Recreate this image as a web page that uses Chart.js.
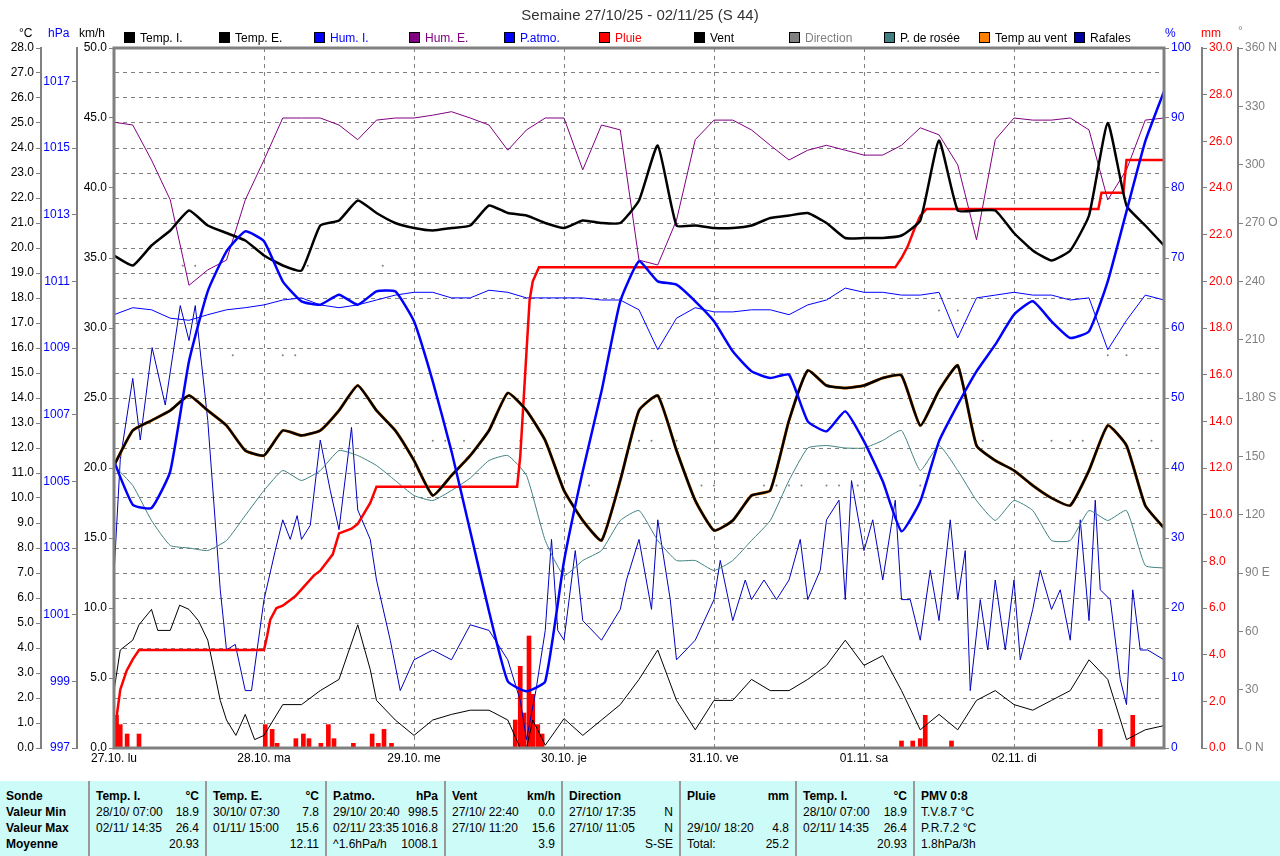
<!DOCTYPE html>
<html>
<head>
<meta charset="utf-8">
<script src="https://cdn.jsdelivr.net/npm/chart.js@4/dist/chart.umd.min.js"></script>
<style>
  body { margin: 0; background: #fff; font-family: "Liberation Sans", Arial, sans-serif; }
  #wrap { position: relative; width: 1280px; height: 856px; overflow: hidden; }
  #c { position: absolute; left: 0; top: 0; }
  .t { position: absolute; font-size: 12px; white-space: nowrap; }
  .sq { display: inline-block; width: 11px; height: 11px; border: 1px solid #000; box-sizing: border-box; vertical-align: -1px; margin-right: 5px; }
  #title { position: absolute; top: 6px; width: 1280px; text-align: center; font-size: 15px; color: #333; }
  #tbl { position: absolute; left: 0; top: 781px; width: 1280px; height: 75px; background: #cdfbf8; display: flex; font-size: 12px; }
  .col { box-sizing: border-box; padding: 8px 6px 0 6px; border-left: 2px solid #999; }
  .col:first-child { border-left: none; }
  .row { display: flex; justify-content: space-between; height: 16px; }
  .b { font-weight: bold; }
</style>
</head>
<body>
<div id="wrap">
  <canvas id="c" width="1280" height="780"></canvas>
  <div id="title">Semaine 27/10/25 - 02/11/25 (S 44)</div>
  <div class="t" style="left:19px;top:26px">°C</div>
  <div class="t" style="left:48px;top:26px;color:#00f">hPa</div>
  <div class="t" style="left:79px;top:26px">km/h</div>
  <div class="t" style="left:1165px;top:26px;color:#00f">%</div>
  <div class="t" style="left:1201px;top:26px;color:#f00">mm</div>
  <div class="t" style="left:1238px;top:24px;color:#888">°</div>
  <div id="legend"></div>
  <div id="tbl"></div>
</div>
<script>
// hours since 27/10 00:00, one point every 3 h
const hours3 = [0,3,6,9,12,15,18,21,24,27,30,33,36,39,42,45,48,51,54,57,60,63,66,69,72,75,78,81,84,87,90,93,96,99,102,105,108,111,114,117,120,123,126,129,132,135,138,141,144,147,150,153,156,159,162,165,168];

const tempI = [19.7,19.3,20.1,20.7,21.5,20.9,20.6,20.3,19.7,19.3,19.1,20.9,21.1,21.9,21.4,21.0,20.8,20.7,20.8,20.9,21.7,21.4,21.3,21.0,20.8,21.1,21.0,21.0,21.9,24.1,20.9,20.9,20.8,20.8,20.9,21.2,21.3,21.4,21.0,20.4,20.4,20.4,20.5,21.1,24.3,21.5,21.5,21.5,20.6,19.9,19.5,19.9,21.3,25.0,21.7,20.9,20.1];
const tempE = [11.3,12.7,13.1,13.5,14.1,13.5,12.9,11.9,11.7,12.7,12.5,12.7,13.5,14.5,13.5,12.7,11.5,10.1,10.9,11.7,12.7,14.2,13.5,12.3,10.3,9.1,8.3,10.7,13.5,14.1,11.9,9.9,8.7,9.1,10.1,10.3,13.1,15.1,14.5,14.4,14.5,14.8,14.9,12.9,14.3,15.3,12.1,11.5,11.1,10.5,10.0,9.7,11.1,12.9,12.1,9.7,8.8];
const humI = [61.9,62.9,62.6,61.4,61.1,61.9,62.6,62.9,63.3,64.0,64.3,63.3,62.9,63.3,64.0,64.7,65.1,65.1,64.3,64.3,65.4,65.1,64.3,64.3,64.3,64.3,64.0,64.0,62.6,56.9,61.4,62.9,62.3,62.3,62.6,62.6,61.9,63.3,64.0,65.7,65.1,65.1,64.7,64.7,65.1,58.6,64.3,64.7,65.1,64.7,64.7,64.0,64.3,56.9,61.1,64.7,64.0];
const humE = [89.4,89.0,84.0,78.3,66.1,68.3,69.7,78.3,84.0,90.0,90.0,90.0,89.0,86.9,89.7,90.0,90.0,90.4,90.9,90.0,89.0,85.4,88.3,90.0,90.0,82.6,89.0,88.3,69.7,69.0,75.4,86.9,89.7,89.7,88.3,86.1,84.0,85.4,86.1,85.4,84.7,84.7,86.1,88.6,87.6,83.3,72.6,86.9,90.0,89.7,89.7,90.0,88.3,78.3,82.6,89.7,90.0];
const pAtmo = [1005.6,1004.3,1004.2,1005.3,1008.6,1010.7,1011.9,1012.5,1012.2,1011.0,1010.4,1010.3,1010.6,1010.3,1010.7,1010.7,1009.8,1008.0,1005.9,1003.5,1001.1,999.0,998.7,999.0,1002.6,1005.3,1007.7,1010.4,1011.6,1011.0,1010.9,1010.4,1009.8,1008.9,1008.3,1008.1,1008.2,1006.8,1006.5,1007.1,1006.2,1005.0,1003.5,1004.4,1006.2,1007.3,1008.3,1009.1,1010.0,1010.4,1009.8,1009.3,1009.5,1011.0,1013.1,1015.2,1016.7];
const dewPt = [11.3,10.5,9.1,8.1,8.0,7.9,8.3,9.3,10.3,11.1,10.7,11.1,11.9,11.7,11.3,10.7,10.1,9.9,10.3,10.8,11.5,11.7,10.9,8.3,6.9,7.5,7.9,9.1,9.5,8.3,7.5,7.5,7.1,7.5,8.3,9.1,10.7,12.0,12.1,12.0,12.0,12.3,12.7,11.1,12.1,11.1,9.9,9.1,9.9,9.5,8.3,8.3,9.5,9.1,9.5,7.3,7.2];

const ventHours = [0,1,3,4,6,7,9,10.5,12,13.5,15,17,18,19.5,21,22.5,24,25.5,27,30,33,36,39,41,42,45,48,51,54,57,60,63,65,66,67,69,72,75,78,81,84,87,90,93,96,99,102,105,108,111,114,117,120,123,126,129,132,135,138,141,144,147,150,153,156,159,162,165,168];
const vent = [4.1,7.0,7.7,8.8,9.9,8.4,8.4,10.2,9.9,9.1,7.7,3.4,2.0,0.9,2.4,0.6,0.9,2.0,3.1,3.1,4.1,4.9,8.8,5.6,3.4,2.0,0.9,2.0,2.4,2.7,2.7,2.0,0,0,2.0,0.2,2.1,0.9,2.0,3.1,4.9,7.0,3.4,1.3,3.4,3.4,4.9,4.1,4.1,4.9,5.9,7.7,5.9,6.6,4.1,1.3,2.4,1.3,3.4,4.1,3.1,2.7,3.4,4.1,6.3,4.9,0.6,1.3,1.6];

const rafHours = [0,1,3,4.2,6.1,8.2,10.6,12,13,15,17,18,19.4,21,22,24,25.8,27,28.2,29.3,30,31.4,33,34.6,36,38,39,41,42,44.2,45.8,48,51,54,57,60,63,65,66,67.5,69,70,71,72,73.8,75,78,81,82,84,86,87,89,90,93,96,97,99,101,102,104,106,108,109.8,111,113,114,116,117,118,120,121.4,123,125,126,127.4,129,130.6,132,133.8,135,136.2,137,138.6,139.8,141,142.6,144,145,147,148.2,150,151.4,153,154.6,156,157,157.8,159.4,161,162,163,164.2,165.4,168];
const rafales = [12.4,20.6,26.4,22,28.6,24.5,31.6,29.1,31.6,23.4,11.3,7,7.4,4.1,4.1,10.6,14.1,16.3,14.9,16.6,14.9,15.9,22,18.4,15.6,22.9,17,14.9,12,7.7,4.1,6.3,7,6.3,8.8,8.4,6.3,3.4,0.6,4.1,8.4,14.9,8.4,7.7,14.1,9.1,7.7,9.9,12,14.9,9.9,16.3,10.6,6.3,7.7,10.6,13.4,9.1,12,10.6,12,10.6,12,14.9,10.6,12.7,16.3,17.7,10.6,19.1,14.1,16.3,12,17.7,10.6,10.6,7.7,12.7,9.1,16.3,10.6,14.1,4.1,10.6,7,12,7,12,6.3,9.9,12.7,9.9,11.3,7.7,16.3,9.1,17.7,11.3,10.6,4.9,3.1,11.3,7,7,6.3];

const rainCumHours = [0,0.5,1,2,3,4,24,24.5,25,26,27,29,30,32,33,35,36,38,39,41,42,64.5,65,66,66.5,67,68,125,126,127,128,129,130,157.5,158,161.5,162,168];
const rainCum = [0,1.5,2.5,3.3,3.8,4.2,4.2,4.8,5.5,6.0,6.1,6.5,6.8,7.4,7.6,8.3,9.2,9.4,9.6,10.5,11.2,11.2,12.5,17,19.2,20,20.6,20.6,21,21.5,22.2,22.8,23.1,23.1,23.8,23.8,25.2,25.2];
const rainHours = [0.4,1,2.1,4,24.2,25.3,26.1,29.1,30.3,31.2,33.1,34.3,35.2,38.3,41.3,42.3,43.2,44.4,64.2,65,65.6,66.4,67,67.8,68.5,126,127.8,129,129.8,134,157.8,163];
const rain = [1.4,1.0,0.6,0.6,1.0,0.8,0.2,0.4,0.6,0.4,0.2,1.0,0.4,0.2,0.6,0.2,0.8,0.2,1.2,3.5,1.5,4.8,2.3,1.0,0.6,0.3,0.3,0.4,1.4,0.3,0.8,1.4];

const dirHours = [11,13,19,27,29,31,43,51,53,56,65,76,84,86,90,94,96,104,106,108,110,114,116,119,129,132,135,139,150,153,155,159,162,164,166];
const dirDeg = [248,248,202,202,202,248,248,158,158,158,158,135,158,158,158,135,135,135,135,135,135,135,135,135,135,225,225,158,158,158,158,202,202,158,158];

const dayLabels = ['27.10. lu','28.10. ma','29.10. me','30.10. je','31.10. ve','01.11. sa','02.11. di'];
const hpaTicks = [997,999,1001,1003,1005,1007,1009,1011,1013,1015,1017];
const dirLabels = {360:'360 N',270:'270 O',180:'180 S',90:'90 E',0:'0 N'};

const legendItems = [
  ['Temp. I.','#000','#000'],['Temp. E.','#000','#000'],['Hum. I.','#00f','#00f'],['Hum. E.','#800080','#800080'],
  ['P.atmo.','#00f','#00f'],['Pluie','#f00','#f00'],['Vent','#000','#000'],['Direction','#808080','#808080'],
  ['P. de rosée','#408080','#000'],['Temp au vent','#ff8000','#000'],['Rafales','#0000a0','#000']
];
const lg = document.getElementById('legend');
legendItems.forEach((it, i) => {
  const d = document.createElement('div');
  d.className = 't';
  d.style.left = (124 + i * 95) + 'px';
  d.style.top = '31px';
  d.style.color = it[2];
  d.innerHTML = '<span class="sq" style="background:' + it[1] + '"></span>' + it[0];
  lg.appendChild(d);
});

const tableCols = [
  [88, [['Sonde',''],['Valeur Min',''],['Valeur Max',''],['Moyenne','']], true],
  [117, [['Temp. I.','°C'],['28/10/ 07:00','18.9'],['02/11/ 14:35','26.4'],['','20.93']]],
  [120, [['Temp. E.','°C'],['30/10/ 07:30','7.8'],['01/11/ 15:00','15.6'],['','12.11']]],
  [119, [['P.atmo.','hPa'],['29/10/ 20:40','998.5'],['02/11/ 23:35','1016.8'],['^1.6hPa/h','1008.1']]],
  [117, [['Vent','km/h'],['27/10/ 22:40','0.0'],['27/10/ 11:20','15.6'],['','3.9']]],
  [118, [['Direction',''],['27/10/ 17:35','N'],['27/10/ 11:05','N'],['','S-SE']]],
  [116, [['Pluie','mm'],['',''],['29/10/ 18:20','4.8'],['Total:','25.2']]],
  [118, [['Temp. I.','°C'],['28/10/ 07:00','18.9'],['02/11/ 14:35','26.4'],['','20.93']]],
  [367, [['PMV 0:8',''],['T.V.8.7 °C',''],['P.R.7.2 °C',''],['1.8hPa/3h','']]]
];
const tb = document.getElementById('tbl');
tableCols.forEach(c => {
  const col = document.createElement('div');
  col.className = 'col';
  col.style.width = c[0] + 'px';
  c[1].forEach((r, j) => {
    const b = (j === 0 || c[2]) ? ' b' : '';
    col.innerHTML += '<div class="row' + b + '"><span>' + r[0] + '</span><span>' + r[1] + '</span></div>';
  });
  tb.appendChild(col);
});

const xy = (xs, ys) => xs.map((x, i) => ({x: x, y: ys[i]}));
const font = {family: 'Liberation Sans', size: 12};
const axisGray = '#808080';

function yAxis(pos, weight, width, min, max, step, color, fmt, extra) {
  return Object.assign({
    position: pos, weight: weight, min: min, max: max,
    afterFit: s => { s.width = width; },
    ticks: {stepSize: step, color: color, font: font, padding: 2, callback: fmt, autoSkip: false},
    grid: {drawOnChartArea: false, tickLength: 5, tickColor: axisGray},
    border: {color: axisGray, width: 2}
  }, extra || {});
}

const framePlugin = {
  id: 'frame',
  afterDraw(chart) {
    const a = chart.chartArea, ctx = chart.ctx;
    ctx.save();
    ctx.strokeStyle = axisGray;
    ctx.lineWidth = 3;
    ctx.strokeRect(a.left, a.top, a.right - a.left, a.bottom - a.top);
    ctx.restore();
  }
};

new Chart(document.getElementById('c'), {
  type: 'line',
  plugins: [framePlugin],
  data: {
    datasets: [
      {type: 'bar', label: 'Pluie h', data: xy(rainHours, rain), yAxisID: 'mm', backgroundColor: '#f00', barThickness: 4, order: 12},
      {label: 'Direction', data: xy(dirHours, dirDeg), yAxisID: 'dir', showLine: false, pointRadius: 1, pointBackgroundColor: '#808080', pointBorderWidth: 0, order: 11},
      {label: 'Rafales', data: xy(rafHours, rafales), yAxisID: 'kmh', borderColor: '#0000c0', borderWidth: 1, tension: 0, order: 10},
      {label: 'Vent', data: xy(ventHours, vent), yAxisID: 'kmh', borderColor: '#000', borderWidth: 1, tension: 0, order: 9},
      {label: 'P. de rosée', data: xy(hours3, dewPt), yAxisID: 'tc', borderColor: '#408080', borderWidth: 1, order: 8},
      {label: 'Hum. I.', data: xy(hours3, humI), yAxisID: 'pct', borderColor: '#00f', borderWidth: 1, tension: 0, order: 7},
      {label: 'Hum. E.', data: xy(hours3, humE), yAxisID: 'pct', borderColor: '#800080', borderWidth: 1, tension: 0, order: 6},
      {label: 'Pluie', data: xy(rainCumHours, rainCum), yAxisID: 'mm', borderColor: '#f00', borderWidth: 2.5, tension: 0, order: 5},
      {label: 'Temp au vent', data: xy(hours3, tempE), yAxisID: 'tc', borderColor: '#ff8000', borderWidth: 3, order: 4},
      {label: 'Temp. E.', data: xy(hours3, tempE), yAxisID: 'tc', borderColor: '#000', borderWidth: 2.5, order: 3},
      {label: 'Temp. I.', data: xy(hours3, tempI), yAxisID: 'tc', borderColor: '#000', borderWidth: 2.5, order: 2},
      {label: 'P.atmo.', data: xy(hours3, pAtmo), yAxisID: 'hpa', borderColor: '#00f', borderWidth: 2.5, order: 1}
    ]
  },
  options: {
    responsive: false,
    animation: false,
    layout: {padding: {top: 48, bottom: 0, left: 0, right: 0}},
    elements: {point: {radius: 0}, line: {tension: 0.15, fill: false}},
    plugins: {legend: {display: false}, tooltip: {enabled: false}},
    scales: {
      x: {
        type: 'linear', min: 0, max: 168, offset: false,
        afterFit: s => { s.height = 32; },
        ticks: {stepSize: 24, color: '#000', font: font, maxRotation: 0, autoSkip: false,
          callback: v => dayLabels[v / 24] || ''},
        grid: {color: axisGray, lineWidth: 1, drawTicks: false, offset: false},
        border: {dash: [4, 4], display: false}
      },
      tc: yAxis('left', 2, 41, 0, 28, 1, '#000', v => v.toFixed(1), {
        grid: {drawOnChartArea: true, color: axisGray, tickLength: 5, tickColor: axisGray},
        border: {color: axisGray, width: 2, dash: [4, 4]}
      }),
      hpa: yAxis('left', 1, 36, 997, 1018, 2, '#00f', v => v, {
        afterBuildTicks: s => { s.ticks = hpaTicks.map(v => ({value: v})); }
      }),
      kmh: yAxis('left', 0, 37, 0, 50, 5, '#000', v => v.toFixed(1)),
      pct: yAxis('right', 0, 38, 0, 100, 10, '#00f', v => v),
      mm: yAxis('right', 1, 36, 0, 30, 2, '#f00', v => v.toFixed(1)),
      dir: yAxis('right', 2, 42, 0, 360, 30, '#808080', v => dirLabels[v] || v)
    }
  }
});
</script>
</body>
</html>
